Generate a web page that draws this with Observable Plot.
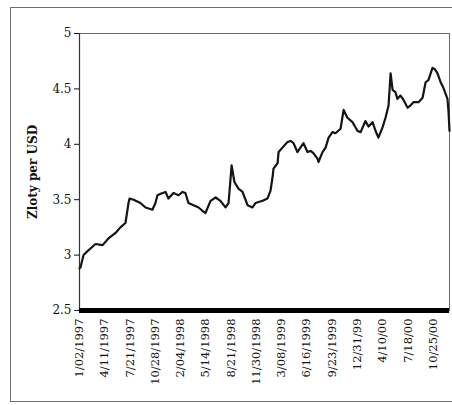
<!DOCTYPE html>
<html>
<head>
<meta charset="utf-8">
<script src="https://cdn.jsdelivr.net/npm/d3@7"></script>
<script src="https://cdn.jsdelivr.net/npm/@observablehq/plot@0.6"></script>
<style>
  html, body { margin: 0; padding: 0; background: #fff; }
  #wrap { position: relative; width: 452px; height: 405px; overflow: hidden; }
  #border { position: absolute; left: 10px; top: 7px; width: 470px; height: 395px;
            border: 1.5px solid #6f6f6f; box-sizing: border-box; pointer-events: none; }
  #chart { position: absolute; left: 0; top: 0; }
</style>
</head>
<body>
<div id="wrap"><div id="chart"></div><div id="border"></div></div>
<script>
// Zloty per US dollar, 1997–2000
const dates = [
  "1997-01-02","1997-01-06","1997-01-18","1997-01-26","1997-03-06","1997-04-03","1997-04-26",
  "1997-05-24","1997-06-12","1997-07-02","1997-07-14","1997-07-18","1997-08-03","1997-08-30",
  "1997-09-19","1997-10-16","1997-10-28","1997-11-05","1997-11-25","1997-12-07","1997-12-18",
  "1998-01-07","1998-01-27","1998-02-12","1998-02-23","1998-03-07","1998-03-27","1998-04-16",
  "1998-05-01","1998-05-13","1998-06-02","1998-06-22","1998-07-11","1998-07-31","1998-08-12",
  "1998-08-24","1998-09-04","1998-09-20","1998-10-06","1998-10-26","1998-11-14","1998-11-26",
  "1998-12-24","1999-01-12","1999-01-24","1999-02-01","1999-02-05","1999-02-21","1999-02-25",
  "1999-03-12","1999-04-01","1999-04-13","1999-04-25","1999-05-10","1999-05-22","1999-06-03",
  "1999-06-19","1999-07-01","1999-07-12","1999-07-28","1999-08-01","1999-08-17","1999-08-29",
  "1999-09-10","1999-09-25","1999-10-07","1999-10-27","1999-11-08","1999-11-23","1999-12-13",
  "2000-01-02","2000-01-14","2000-02-02","2000-02-14","2000-03-01","2000-03-13","2000-03-24",
  "2000-04-09","2000-04-21","2000-05-03","2000-05-11","2000-05-19","2000-05-30","2000-06-07",
  "2000-06-19","2000-07-01","2000-07-17","2000-07-28","2000-08-09","2000-08-29","2000-09-14",
  "2000-09-26","2000-10-07","2000-10-23","2000-10-31","2000-11-12","2000-11-24","2000-12-05",
  "2000-12-21","2000-12-25","2000-12-29"
];
const rates = [
  2.88, 2.89, 3.00, 3.02, 3.10, 3.09, 3.15,
  3.20, 3.25, 3.29, 3.47, 3.51, 3.50, 3.47,
  3.43, 3.41, 3.47, 3.54, 3.56, 3.57, 3.51,
  3.56, 3.54, 3.57, 3.56, 3.47, 3.45, 3.43,
  3.40, 3.38, 3.49, 3.52, 3.49, 3.43, 3.47,
  3.81, 3.66, 3.60, 3.57, 3.45, 3.43, 3.47,
  3.49, 3.51, 3.58, 3.70, 3.78, 3.83, 3.93,
  3.97, 4.02, 4.03, 4.01, 3.93, 3.97, 4.01,
  3.93, 3.94, 3.92, 3.87, 3.84, 3.93, 3.97,
  4.06, 4.11, 4.10, 4.14, 4.31, 4.24, 4.20,
  4.12, 4.11, 4.21, 4.16, 4.20, 4.12, 4.06,
  4.15, 4.24, 4.35, 4.64, 4.49, 4.47, 4.41,
  4.44, 4.40, 4.33, 4.35, 4.38, 4.38, 4.42,
  4.56, 4.58, 4.69, 4.68, 4.64, 4.56, 4.51,
  4.41, 4.30, 4.12
];

// x-axis tick dates and their labels
const tickDates = [
  "1997-01-02","1997-04-11","1997-07-21","1997-10-28","1998-02-04","1998-05-14","1998-08-21",
  "1998-11-30","1999-03-08","1999-06-16","1999-09-23","1999-12-31","2000-04-10","2000-07-18","2000-10-25"
];
const tickLabels = [
  "1/02/1997","4/11/1997","7/21/1997","10/28/1997","2/04/1998","5/14/1998","8/21/1998",
  "11/30/1998","3/08/1999","6/16/1999","9/23/1999","12/31/99","4/10/00","7/18/00","10/25/00"
];
const yTicks = [2.5, 3, 3.5, 4, 4.5, 5];
const yTickLabels = ["2.5", "3", "3.5", "4", "4.5", "5"];

const parse = d3.utcParse("%Y-%m-%d");
const data = dates.map((d, i) => ({date: parse(d), rate: rates[i]}));
const tickDateObjs = tickDates.map(parse);
const xDomain = [parse("1997-01-02"), parse("2000-12-29")];

const chart = Plot.plot({
  width: 452,
  height: 405,
  marginLeft: 79,
  marginRight: 3,
  marginTop: 33,
  marginBottom: 95,
  style: {fontFamily: "'DejaVu Serif', serif", fontSize: "12px", color: "#111", background: "transparent"},
  x: {type: "utc", domain: xDomain},
  y: {domain: [2.5, 5]},
  marks: [
    Plot.frame({stroke: "#6a6a6a", strokeWidth: 1}),
    Plot.axisY({
      ticks: yTicks,
      tickFormat: (d) => yTickLabels[yTicks.indexOf(d)],
      tickSize: 5, tickPadding: 3, label: null, fontSize: 12
    }),
    Plot.axisX({
      ticks: tickDateObjs,
      tickFormat: (d) => tickLabels[tickDateObjs.findIndex((t) => +t === +d)],
      tickRotate: -90, tickSize: 0, tickPadding: 8, label: null, fontSize: 11.5
    }),
    Plot.ruleX([xDomain[0]], {stroke: "#333", strokeWidth: 1.2}),
    Plot.line(data, {x: "date", y: "rate", stroke: "#141414", strokeWidth: 2.2, strokeLinejoin: "round"}),
    Plot.ruleY([2.5], {stroke: "#000", strokeWidth: 5}),
    Plot.text(["Zloty per USD"], {
      frameAnchor: "left", dx: -46, rotate: -90, textAnchor: "middle", lineAnchor: "middle",
      fontWeight: "bold", fontSize: 12
    })
  ]
});

document.getElementById("chart").appendChild(chart);
</script>
</body>
</html>
